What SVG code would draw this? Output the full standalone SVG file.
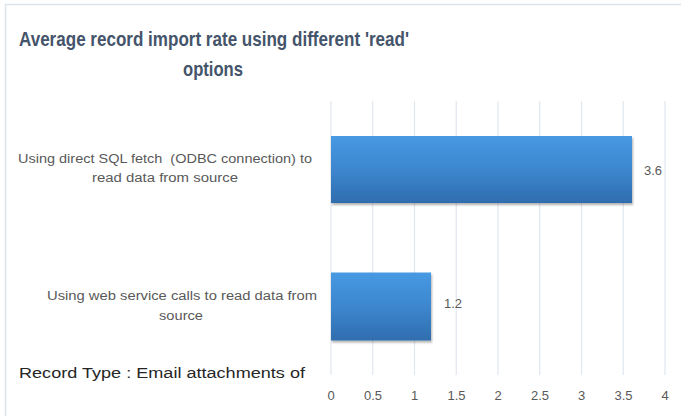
<svg xmlns="http://www.w3.org/2000/svg" width="681" height="416" viewBox="0 0 681 416">
<defs>
<linearGradient id="barGrad" x1="0" y1="0" x2="0" y2="1">
<stop offset="0" stop-color="#4699E2"/>
<stop offset="0.5" stop-color="#3D87CF"/>
<stop offset="1" stop-color="#2F6DAE"/>
</linearGradient>
<filter id="shadow" x="-5%" y="-5%" width="115%" height="125%">
<feDropShadow dx="1" dy="2" stdDeviation="1.2" flood-color="#000" flood-opacity="0.3"/>
</filter>
</defs>
<style>
.title{font-family:"Liberation Sans",Arial,sans-serif;font-weight:bold;font-size:21px;fill:#44546A;text-anchor:middle}
.cat{font-family:"Liberation Sans",Arial,sans-serif;font-size:12.5px;fill:#595959;text-anchor:middle}
.tick{font-family:"Liberation Sans",Arial,sans-serif;font-size:13px;fill:#595959;text-anchor:middle}
.val{font-family:"Liberation Sans",Arial,sans-serif;font-size:13px;fill:#595959}
.note{font-family:"Liberation Sans",Arial,sans-serif;font-size:15.5px;fill:#262626}
.grid{stroke:#E1E7EE;stroke-width:1.2}
.bar{fill:url(#barGrad);filter:url(#shadow)}
</style>
<rect x="0" y="0" width="681" height="416" fill="#FFFFFF"/>
<rect x="5.5" y="4.5" width="690" height="430" fill="none" stroke="#DDE3EA" stroke-width="1.5"/>
<g id="title">
<text class="title" x="214" y="46" textLength="390" lengthAdjust="spacingAndGlyphs">Average record import rate using different 'read'</text>
<text class="title" x="213" y="76" textLength="60" lengthAdjust="spacingAndGlyphs">options</text>
</g>
<g id="gridlines">
<line class="grid" x1="331" y1="101" x2="331" y2="375"/>
<line class="grid" x1="372.75" y1="101" x2="372.75" y2="375"/>
<line class="grid" x1="414.5" y1="101" x2="414.5" y2="375"/>
<line class="grid" x1="456.25" y1="101" x2="456.25" y2="375"/>
<line class="grid" x1="498" y1="101" x2="498" y2="375"/>
<line class="grid" x1="539.75" y1="101" x2="539.75" y2="375"/>
<line class="grid" x1="581.5" y1="101" x2="581.5" y2="375"/>
<line class="grid" x1="623.25" y1="101" x2="623.25" y2="375"/>
<line class="grid" x1="665" y1="101" x2="665" y2="375"/>
</g>
<g id="axis-labels">
<text class="tick" x="331" y="400">0</text>
<text class="tick" x="373" y="400">0.5</text>
<text class="tick" x="414.5" y="400">1</text>
<text class="tick" x="456.5" y="400">1.5</text>
<text class="tick" x="498" y="400">2</text>
<text class="tick" x="540" y="400">2.5</text>
<text class="tick" x="581.5" y="400">3</text>
<text class="tick" x="623.5" y="400">3.5</text>
<text class="tick" x="665" y="400">4</text>
</g>
<g id="bar-sql">
<rect class="bar" x="331" y="136" width="301" height="67"/>
<text class="val" x="644" y="175">3.6</text>
<text class="cat" x="165" y="163" textLength="294" lengthAdjust="spacingAndGlyphs">Using direct SQL fetch &#160;(ODBC connection) to</text>
<text class="cat" x="165" y="182" textLength="146" lengthAdjust="spacingAndGlyphs">read data from source</text>
</g>
<g id="bar-web">
<rect class="bar" x="331" y="272.5" width="100" height="68"/>
<text class="val" x="444" y="308">1.2</text>
<text class="cat" x="182" y="300" textLength="270" lengthAdjust="spacingAndGlyphs">Using web service calls to read data from</text>
<text class="cat" x="181" y="320" textLength="44" lengthAdjust="spacingAndGlyphs">source</text>
</g>
<g id="note">
<text class="note" x="19" y="378" textLength="286" lengthAdjust="spacingAndGlyphs">Record Type : Email attachments of</text>
</g>
</svg>
